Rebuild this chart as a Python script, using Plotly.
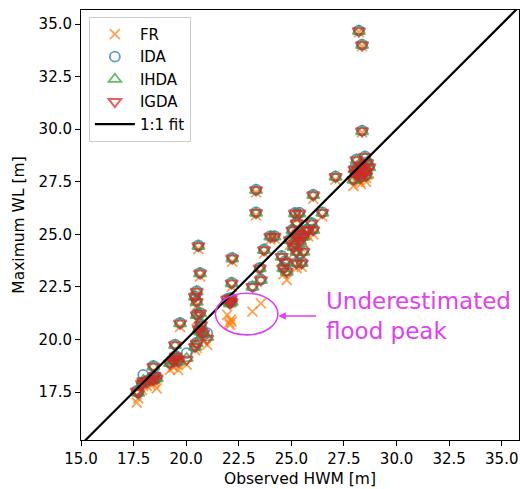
import plotly.graph_objects as go

# Observed high-water marks [m]
hwm = [17.65, 17.72, 17.90, 17.96, 18.12, 18.44, 18.60, 18.44, 19.23, 19.39,
       19.62, 19.50, 19.47, 20.02, 19.71, 20.42, 20.50, 21.00, 20.66, 20.81,
       20.50, 20.66, 20.50, 20.42, 20.50, 20.66, 20.58, 21.95, 22.08, 22.16,
       22.16, 22.19, 23.15, 23.55, 23.50, 23.32, 23.32, 23.70, 24.00, 24.20,
       24.54, 24.62, 24.78, 24.93, 25.17, 25.25, 25.57, 25.25, 25.49, 25.33,
       25.57, 25.73, 26.04, 25.25, 25.96, 25.17, 25.38, 26.04, 26.47, 27.10,
       28.21, 28.36, 28.36, 28.10, 28.50, 28.30, 28.00, 28.60, 28.20, 28.45,
       28.70, 27.95, 28.30, 28.55,
       # extra sites in the dense clusters
       28.15, 28.40, 28.25, 28.55, 28.05, 25.10, 25.40, 25.30, 25.05, 25.50,
       20.60, 20.70, 18.30, 18.50, 19.40, 19.55, 22.05, 22.12, 24.70, 25.80]

fr = [17.00, 17.20, 17.60, 17.80, 17.80, 17.90, 17.68, 18.50, 18.56, 18.70,
      18.56, 18.90, 19.50, 18.80, 20.60, 19.50, 19.60, 19.74, 20.10, 19.90,
      20.90, 21.00, 21.60, 21.80, 22.10, 23.00, 24.30, 21.17, 20.69, 20.85,
      22.50, 23.70, 21.33, 21.72, 23.20, 25.90, 27.00, 24.10, 24.75, 24.80,
      23.70, 23.10, 22.83, 24.50, 24.30, 23.90, 23.95, 23.40, 23.45, 24.80,
      24.60, 25.00, 25.00, 25.30, 25.30, 25.80, 25.80, 26.70, 25.85, 27.60,
      34.62, 33.95, 29.85, 28.30, 28.40, 28.00, 27.80, 28.10, 27.60, 27.70,
      27.90, 27.30, 27.40, 27.50,
      27.80, 27.90, 27.50, 27.70, 27.60, 24.10, 24.40, 24.60, 24.90, 24.70,
      20.20, 20.40, 17.85, 18.00, 18.70, 18.80, 20.80, 20.95, 23.40, 24.90]

ida = [17.55, 17.48, 17.92, 18.32, 18.02, 18.10, 18.18, 18.74, 18.90, 19.06,
       18.98, 19.22, 19.76, 19.35, 20.79, 19.68, 19.85, 20.30, 20.40, 20.33,
       21.20, 21.27, 21.82, 22.06, 22.30, 23.17, 24.47, 21.93, 21.75, 21.82,
       22.70, 23.88, 22.53, 22.85, 23.41, 26.05, 27.13, 24.28, 24.92, 24.92,
       23.97, 23.42, 23.26, 24.75, 24.61, 24.20, 24.21, 23.66, 23.66, 25.08,
       24.92, 25.24, 25.23, 25.56, 25.55, 26.02, 26.03, 26.89, 26.05, 27.76,
       34.69, 34.02, 29.93, 28.57, 28.71, 28.33, 28.13, 28.43, 27.93, 28.02,
       28.23, 27.63, 27.73, 27.83,
       28.12, 28.22, 27.83, 28.02, 27.92, 24.42, 24.72, 24.92, 25.22, 25.02,
       20.52, 20.72, 18.12, 18.30, 19.00, 19.10, 21.82, 21.98, 23.72, 25.22]

ihda = [17.52, 17.45, 17.88, 18.05, 17.98, 18.06, 18.14, 18.70, 18.86, 19.02,
        18.94, 19.18, 19.72, 19.10, 20.75, 19.64, 19.80, 20.10, 20.36, 20.28,
        21.15, 21.23, 21.78, 22.02, 22.26, 23.13, 24.43, 21.89, 21.70, 21.78,
        22.66, 23.84, 22.49, 22.81, 23.37, 26.01, 27.09, 24.24, 24.88, 24.88,
        23.92, 23.37, 23.21, 24.71, 24.56, 24.16, 24.16, 23.61, 23.62, 25.03,
        24.87, 25.19, 25.19, 25.51, 25.51, 25.98, 25.98, 26.85, 26.01, 27.72,
        34.66, 33.99, 29.89, 28.52, 28.67, 28.28, 28.08, 28.38, 27.88, 27.98,
        28.18, 27.58, 27.68, 27.78,
        28.08, 28.18, 27.78, 27.98, 27.88, 24.38, 24.68, 24.88, 25.18, 24.98,
        20.48, 20.68, 18.08, 18.26, 18.96, 19.06, 21.78, 21.94, 23.68, 25.18]

igda = [17.54, 17.46, 17.90, 18.02, 18.00, 18.08, 18.16, 18.71, 18.87, 19.03,
        18.95, 19.20, 19.74, 19.05, 20.77, 19.66, 19.82, 20.05, 20.38, 20.30,
        21.17, 21.25, 21.80, 22.04, 22.28, 23.15, 24.45, 21.91, 21.72, 21.80,
        22.68, 23.86, 22.51, 22.83, 23.39, 26.03, 27.11, 24.26, 24.90, 24.90,
        23.94, 23.39, 23.23, 24.73, 24.58, 24.18, 24.18, 23.63, 23.63, 25.05,
        24.89, 25.21, 25.21, 25.53, 25.53, 26.00, 26.00, 26.87, 26.03, 27.74,
        34.67, 34.00, 29.91, 28.54, 28.69, 28.30, 28.10, 28.40, 27.90, 28.00,
        28.20, 27.60, 27.70, 27.80,
        28.10, 28.20, 27.80, 28.00, 27.90, 24.40, 24.70, 24.90, 25.20, 25.00,
        20.50, 20.70, 18.10, 18.28, 18.98, 19.08, 21.80, 21.96, 23.70, 25.20]

x_range = [15.0, 35.82]
y_range = [15.22, 35.67]
fit_line = [15.0, 36.0]

FONT = "DejaVu Sans"
OP = 0.72
fig = go.Figure()

fig.add_trace(go.Scatter(x=hwm, y=fr, mode="markers", name="FR",
                         marker=dict(symbol="x-thin-open", size=10, color="#ff7f0e",
                                     line=dict(width=1.8, color="#ff7f0e"), opacity=OP)))
fig.add_trace(go.Scatter(x=hwm, y=ida, mode="markers", name="IDA",
                         marker=dict(symbol="circle-open", size=10, color="#1f77b4",
                                     line=dict(width=1.8), opacity=OP)))
fig.add_trace(go.Scatter(x=hwm, y=ihda, mode="markers", name="IHDA",
                         marker=dict(symbol="triangle-up-open", size=11, color="#2ca02c",
                                     line=dict(width=1.8), opacity=OP)))
fig.add_trace(go.Scatter(x=hwm, y=igda, mode="markers", name="IGDA",
                         marker=dict(symbol="triangle-down-open", size=11, color="#d62728",
                                     line=dict(width=2.0), opacity=OP)))
fig.add_trace(go.Scatter(x=fit_line, y=fit_line, mode="lines", name="1:1 fit",
                         line=dict(color="black", width=2.2)))

MAG = "#e040f0"
fig.add_shape(type="circle", xref="x", yref="y", x0=21.39, x1=24.36, y0=20.22, y1=22.2,
              line=dict(color=MAG, width=1.6))
fig.add_annotation(x=24.38, y=21.12, ax=26.25, ay=21.12, xref="x", yref="y",
                   axref="x", ayref="y", text="", showarrow=True,
                   arrowhead=2, arrowsize=1, arrowwidth=1.5, arrowcolor=MAG)
fig.add_annotation(x=26.55, y=21.12, xref="x", yref="y", xanchor="left", yanchor="middle",
                   text="Underestimated<br>flood peak", showarrow=False, align="left",
                   font=dict(family=FONT, size=23, color=MAG))

axis_common = dict(showline=True, linecolor="black", linewidth=1, mirror=True,
                   ticks="outside", ticklen=5, tickcolor="black", showgrid=False,
                   zeroline=False, tickformat=".1f", dtick=2.5,
                   tickfont=dict(family=FONT, size=15, color="black"))

fig.update_xaxes(range=x_range, tick0=15,
                 title=dict(text="Observed HWM [m]", font=dict(family=FONT, size=15.5, color="black"),
                            standoff=6), **axis_common)
fig.update_yaxes(range=y_range, tick0=15,
                 title=dict(text="Maximum WL [m]", font=dict(family=FONT, size=15.5, color="black"),
                            standoff=10), **axis_common)

fig.update_layout(
    width=520, height=489,
    margin=dict(l=81, r=1, t=10, b=49),
    plot_bgcolor="white", paper_bgcolor="white",
    font=dict(family=FONT, size=15, color="black"),
    legend=dict(x=0.018, y=0.984, xanchor="left", yanchor="top",
                bgcolor="rgba(255,255,255,0.85)", bordercolor="#cccccc", borderwidth=1,
                font=dict(family=FONT, size=15), itemwidth=40, tracegroupgap=0),
    showlegend=True,
)

fig.write_html("out.html")
